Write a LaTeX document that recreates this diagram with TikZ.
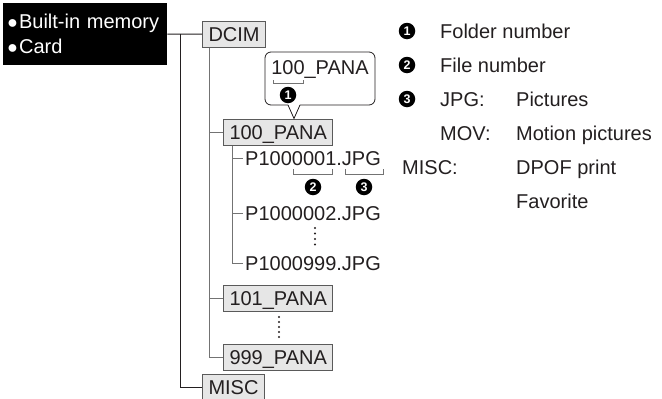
\documentclass[tikz,border=0pt]{standalone}
\usepackage{fontspec}
\setmainfont{Liberation Sans}
\definecolor{fmframe}{RGB}{90,90,90}
\definecolor{fmfill}{RGB}{230,230,230}
\definecolor{fmline}{RGB}{115,115,115}
\definecolor{fmink}{RGB}{35,31,32}
\newcommand{\fmbullet}{\raisebox{0.5pt}{\fontsize{18}{25}\selectfont ●}\hspace{1pt}}

\begin{document}
\begin{tikzpicture}[x=1pt,y=-1pt,
  txt/.style={text=fmink, font=\fontsize{20}{24}\selectfont, text height=14pt, text depth=0pt},
  memory/.style={fill=black, text=white, font=\fontsize{20}{25}\selectfont, align=left, text width=156pt, minimum width=164pt, minimum height=62pt, inner xsep=4pt},
  folder/.style={txt, draw=fmframe, fill=fmfill, line width=1pt, anchor=west, minimum height=26pt, inner xsep=6pt, inner ysep=0pt},
  file/.style={txt, anchor=west, inner sep=0pt, inner xsep=2pt},
  legend/.style={txt, anchor=west, inner sep=0pt},
  num/.style={circle, fill=black, text=white, inner sep=0pt, minimum size=16.5pt, font=\fontsize{12.5}{12.5}\selectfont\bfseries},
  tag/.style={draw=fmink, fill=white, rounded corners=6pt, line width=0.8pt, minimum width=110pt, minimum height=53pt},
  trunk/.style={draw=fmink, line width=1pt},
  twig/.style={draw=fmline, line width=1pt},
  brace/.style={draw=fmline, line width=0.8pt}]
\useasboundingbox (0,0) rectangle (662,399);

% storage
\node[memory, anchor=north west] (mem) at (3,3) {\fmbullet Built-in memory\\\fmbullet Card};

% folders and files
\node[folder] (dcim) at (202,34) {DCIM};
\node[folder] (pana100) at (223,132) {100\_PANA};
\node[folder] (pana101) at (223,298) {101\_PANA};
\node[folder] (pana999) at (223,357) {999\_PANA};
\node[folder] (misc) at (202,387) {MISC};
\node[file] (f001) at (243,158) {P1000001.JPG};
\node[file] (f002) at (243,213) {P1000002.JPG};
\node[file] (f999) at (243,263) {P1000999.JPG};

% tree lines
\coordinate (root) at (180,34);
\coordinate (dstem) at ([xshift=7pt]dcim.south west);
\coordinate (pstem) at ([xshift=9pt]pana100.south west);
\draw[trunk] (mem.east) -- (dcim.west);
\draw[trunk] (root) |- (misc.west);
\draw[twig] (dstem) |- (pana999.west);
\draw[twig] (dstem |- pana100.west) -- (pana100.west);
\draw[twig] (dstem |- pana101.west) -- (pana101.west);
\draw[twig] (pstem) |- (f999.west);
\draw[twig] (pstem |- f001.west) -- (f001.west);
\draw[twig] (pstem |- f002.west) -- (f002.west);

% skipped entries
\foreach \y in {228,233.5,239,244.5}
  \fill[fmink] (315,\y) circle (1.2pt);
\foreach \y in {317,322,327,332,337}
  \fill[fmink] (279,\y) circle (1.2pt);

% callout over 100_PANA
\node[tag] (tag) at (320,78.5) {};
\coordinate (tip) at (pana100.north -| 294,0);
\fill[white] (288,104) -- (300,104) -- (tip) -- cycle;
\draw[line width=0.8pt, fmink] (288,105) -- (tip) -- (300,105);
\node[txt, inner sep=0pt] (tagtext) at (320,67) {100\_PANA};
\draw[brace] (273,80) -- (273,83.5) -- (303,83.5) -- (303,80);
\node[num] (n1) at (288,95) {1};

% parts of the file name
\draw[brace] (293,169) -- (293,174) -- (332,174) -- (332,169);
\draw[brace] (345,169) -- (345,174) -- (383,174) -- (383,169);
\node[num] (n2) at (313,187) {2};
\node[num] (n3) at (364,187) {3};

% key
\node[num] (k1) at (407,31) {1};
\node[legend] (k1t) at (440,31) {Folder number};
\node[num] (k2) at (407,65) {2};
\node[legend] (k2t) at (440,65) {File number};
\node[num] (k3) at (407,99) {3};
\node[legend] (jpg) at (440,99) {JPG:};
\node[legend] (jpgt) at (516,99) {Pictures};
\node[legend] (mov) at (440,133) {MOV:};
\node[legend] (movt) at (516,133) {Motion pictures};
\node[legend] (miscl) at (402,167) {MISC:};
\node[legend] (dpof) at (516,167) {DPOF print};
\node[legend] (fav) at (516,201) {Favorite};
\end{tikzpicture}
\end{document}
